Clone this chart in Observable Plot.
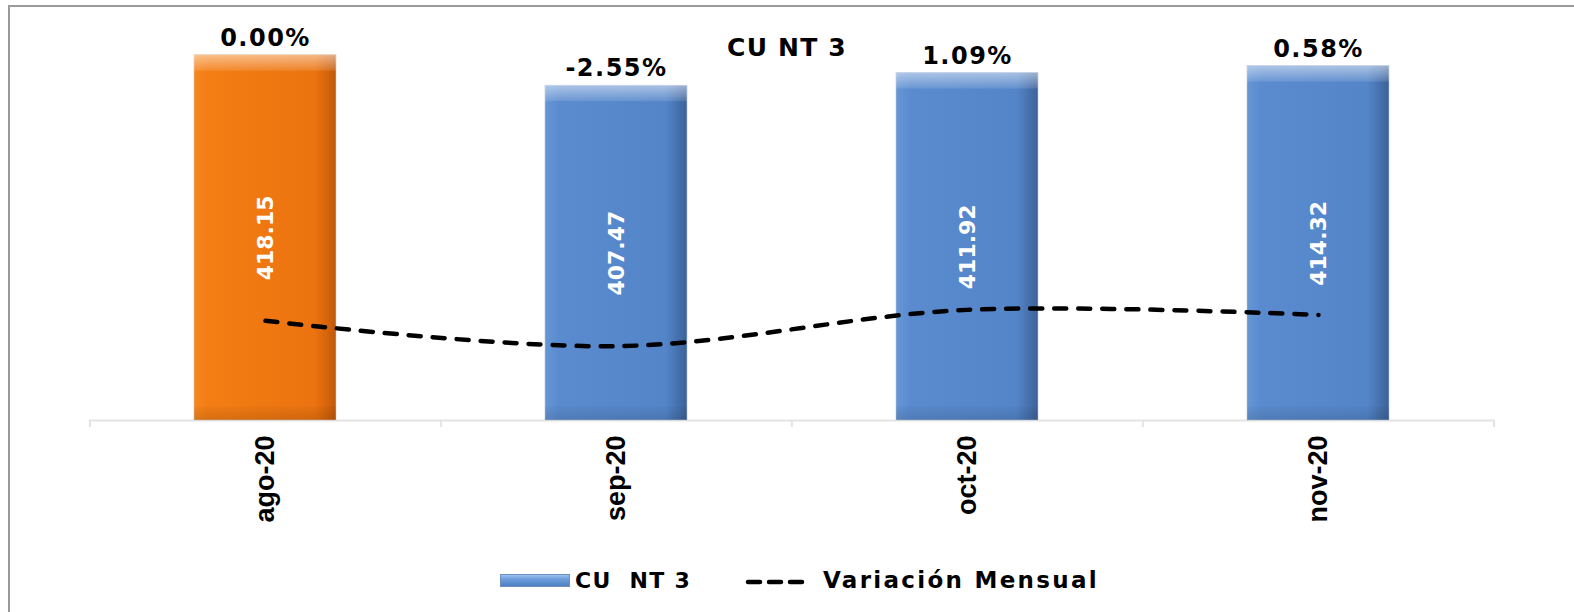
<!DOCTYPE html>
<html>
<head>
<meta charset="utf-8">
<script src="https://cdn.jsdelivr.net/npm/d3@7"></script>
<script src="https://cdn.jsdelivr.net/npm/@observablehq/plot@0.6"></script>
<style>
  html, body { margin: 0; padding: 0; background: #fff; }
  #wrap { position: relative; width: 1574px; height: 612px; overflow: hidden; background: #fff; }
  #frame { position: absolute; left: 8px; top: 5px; width: 1700px; height: 800px;
           border-left: 2px solid #9a9a9a; border-top: 2px solid #9a9a9a; }
  #chart { position: absolute; left: 0; top: 0; }
  #title { position: absolute; left: 637px; top: 33px; width: 300px; text-align: center;
           font: bold 25px "DejaVu Sans", sans-serif; letter-spacing: 1.2px; color: #000; }
  .leg { position: absolute; font: bold 22px "DejaVu Sans", sans-serif; letter-spacing: 1.3px;
         color: #000; white-space: pre; line-height: 24px; }
  #swatch { position: absolute; left: 500px; top: 574px; width: 70px; height: 13px;
            border: 1px solid #6d8fc0; box-sizing: border-box;
            background: linear-gradient(to bottom, #9cc2f2 0%, #6f9fdc 35%, #4f80c4 100%); }
</style>
</head>
<body>
<svg width="0" height="0" style="position:absolute">
  <defs>
    <linearGradient id="gOrange" x1="0" x2="1" y1="0" y2="0">
      <stop offset="0" stop-color="#f7861e"/>
      <stop offset="0.1" stop-color="#f47d14"/>
      <stop offset="0.85" stop-color="#ec730f"/>
      <stop offset="0.93" stop-color="#d8650b"/>
      <stop offset="1" stop-color="#c0590a"/>
    </linearGradient>
    <linearGradient id="gBlue" x1="0" x2="1" y1="0" y2="0">
      <stop offset="0" stop-color="#6596d6"/>
      <stop offset="0.1" stop-color="#5a8bcf"/>
      <stop offset="0.85" stop-color="#5485c9"/>
      <stop offset="0.93" stop-color="#4772b0"/>
      <stop offset="1" stop-color="#3c6297"/>
    </linearGradient>
    <linearGradient id="gTop" x1="0" x2="0" y1="0" y2="1">
      <stop offset="0" stop-color="#ffffff" stop-opacity="0.5"/>
      <stop offset="1" stop-color="#ffffff" stop-opacity="0.1"/>
    </linearGradient>
    <linearGradient id="gBottom" x1="0" x2="0" y1="0" y2="1">
      <stop offset="0" stop-color="#000000" stop-opacity="0.02"/>
      <stop offset="1" stop-color="#000000" stop-opacity="0.12"/>
    </linearGradient>
  </defs>
</svg>
<div id="wrap">
  <div id="frame"></div>
  <div id="chart"></div>
  <div id="title">CU NT 3</div>
  <div id="swatch"></div>
  <div class="leg" style="left:575px; top:569px;">CU  NT 3</div>
  <svg style="position:absolute; left:744px; top:576px;" width="70" height="12">
    <line x1="4" y1="6" x2="66" y2="6" stroke="#000" stroke-width="4.5" stroke-dasharray="12,9" stroke-linecap="round"/>
  </svg>
  <div class="leg" style="left:823px; top:568px; font-size:23px; letter-spacing:2.3px;">Variación Mensual</div>
</div>
<script>
// ---- data ----
const months = ["ago-20", "sep-20", "oct-20", "nov-20"];
const cuValues = [418.15, 407.47, 411.92, 414.32];
const valueLabels = ["418.15", "407.47", "411.92", "414.32"];
const variation = [0.00, -2.55, 1.09, 0.58];
const pctLabels = ["0.00%", "-2.55%", "1.09%", "0.58%"];
const primaryDomain = [290, 430];
const secondaryDomain = [-10, 30];

// ---- build table ----
const data = months.map((m, i) => ({
  month: m, value: cuValues[i], valueLabel: valueLabels[i],
  variation: variation[i], pct: pctLabels[i]
}));
const highlighted = data.filter((d, i) => i === 0);
const others = data.filter((d, i) => i !== 0);

// secondary axis mapped onto primary axis
const y2 = d3.scaleLinear().domain(secondaryDomain).range(primaryDomain);
const yBase = primaryDomain[0];

const W = 1574, H = 560, mL = 89, mR = 80, mT = 21, mB = 140;
const step = (W - mL - mR) / months.length;

const chart = Plot.plot({
  width: W, height: H,
  marginLeft: mL, marginRight: mR, marginTop: mT, marginBottom: mB,
  style: { background: "transparent", color: "#000", overflow: "visible" },
  x: { type: "band", domain: months, paddingInner: 0.595, paddingOuter: 0.2975, axis: null, label: null },
  y: { domain: primaryDomain, axis: null },
  marks: [
    Plot.ruleY([yBase], { stroke: "#e4e4e4", strokeWidth: 2 }),
    Plot.ruleX(months, { x: d => d, dx: -step / 2, insetTop: H - mT - mB, insetBottom: -7, stroke: "#e4e4e4", strokeWidth: 2 }),
    Plot.ruleX(months.slice(-1), { x: d => d, dx: step / 2, insetTop: H - mT - mB, insetBottom: -7, stroke: "#e4e4e4", strokeWidth: 2 }),
    Plot.barY(highlighted, { x: "month", y1: yBase, y2: "value", fill: "url(#gOrange)", stroke: "#d9c7b8", strokeWidth: 0.6 }),
    Plot.barY(others, { x: "month", y1: yBase, y2: "value", fill: "url(#gBlue)", stroke: "#b9c6d8", strokeWidth: 0.6 }),
    Plot.barY(data, { x: "month", y1: "value", y2: "value", insetBottom: -16, fill: "url(#gTop)" }),
    Plot.barY(data, { x: "month", y1: yBase, y2: yBase, insetTop: -14, fill: "url(#gBottom)" }),
    Plot.text(data, { x: "month", y: d => (d.value + yBase) / 2, text: "valueLabel", rotate: -90,
      fill: "#fff", fontSize: 22, fontWeight: "bold", fontFamily: "DejaVu Sans" }),
    Plot.line(data, { x: "month", y: d => y2(d.variation), curve: "catmull-rom",
      stroke: "#000", strokeWidth: 4.5, strokeDasharray: "12,12", strokeLinecap: "round" }),
    Plot.text(data, { x: "month", y: "value", dy: -17, text: "pct",
      fill: "#000", fontSize: 24, fontWeight: "bold", fontFamily: "DejaVu Sans" }),
    Plot.axisX({ tickRotate: -90, tickSize: 0, tickPadding: 15, fontSize: 27, label: null,
      fontWeight: "bold", fontFamily: "Liberation Sans", fill: "#000" })
  ]
});
document.getElementById("chart").appendChild(chart);
// letter spacing tweak for percent labels
const textGroups = chart.querySelectorAll('g[aria-label="text"]');
if (textGroups.length > 1) textGroups[1].style.letterSpacing = "1.5px";
</script>
</body>
</html>
